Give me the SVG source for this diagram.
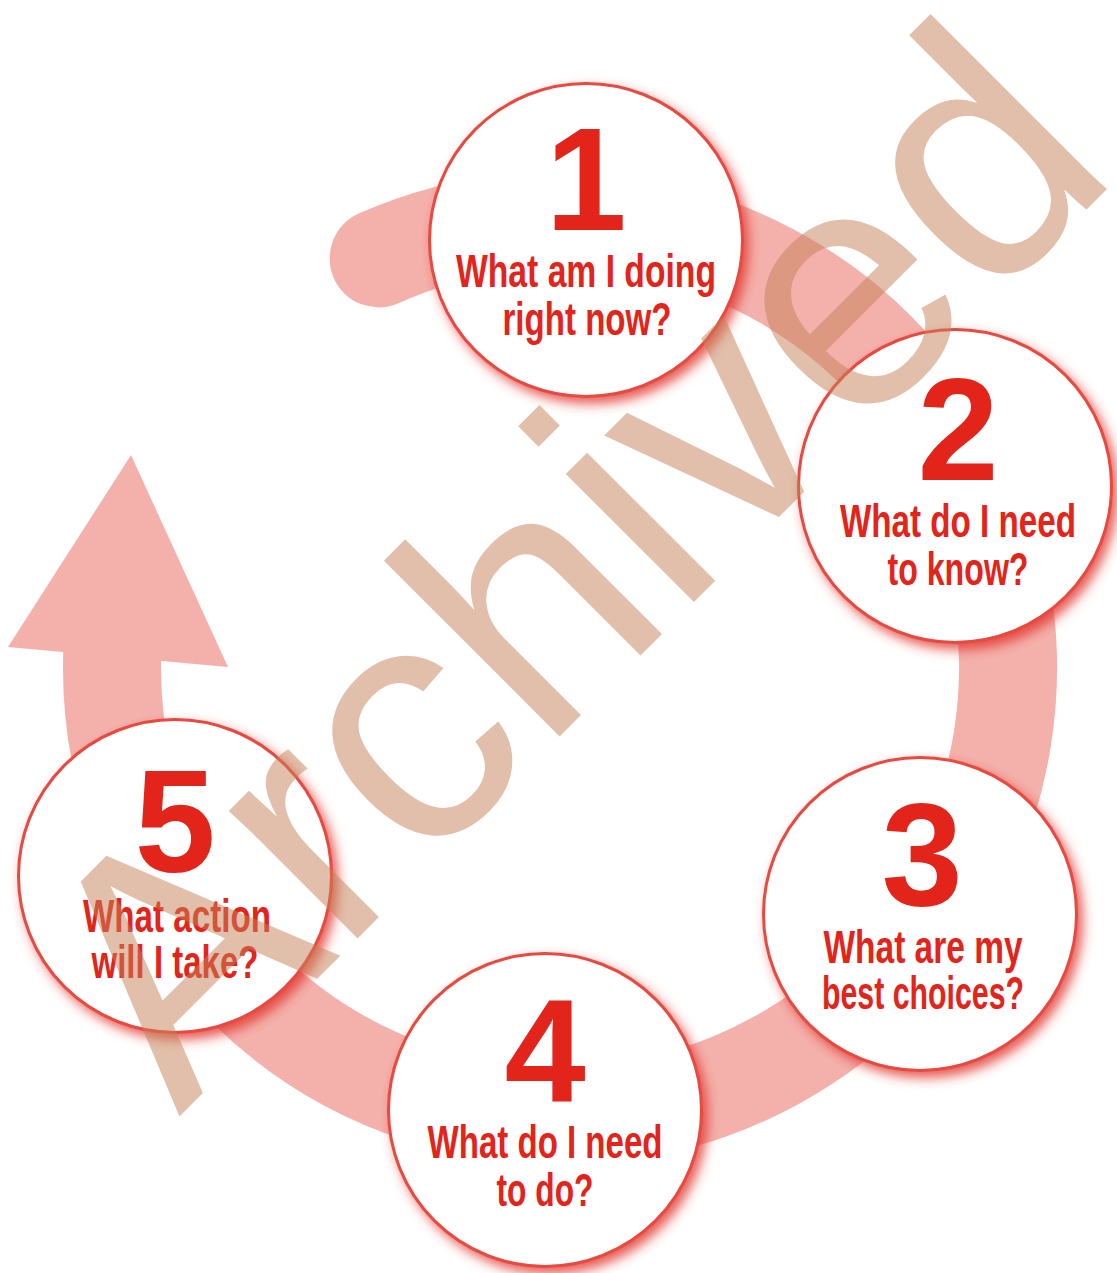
<svg xmlns="http://www.w3.org/2000/svg" width="1117" height="1273" viewBox="0 0 1117 1273">
<style>
.band{fill:none;stroke:#f4b1ac;stroke-width:98;stroke-linecap:round}
.arrow{fill:#f4b1ac}
.node circle{fill:#ffffff;stroke:#e8493f;stroke-width:3;filter:url(#sh)}
.num{fill:#e3241a;font-family:"Liberation Sans",Arial,sans-serif;font-weight:700;font-size:146px;text-anchor:middle}
.lbl{fill:#e3241a;font-family:"Liberation Sans Narrow","Liberation Sans",Arial,sans-serif;font-weight:700;font-size:46px;text-anchor:middle}
.wm{fill:#c58157;opacity:0.5;font-family:"Liberation Sans",Arial,sans-serif;font-size:343px}
</style>
<defs>
<filter id="sh" x="-20%" y="-20%" width="150%" height="150%">
<feDropShadow dx="5" dy="6" stdDeviation="6" flood-color="#e0352b" flood-opacity="0.8"/>
</filter>
</defs>
<rect width="1117" height="1273" fill="#ffffff"/>
<g id="connectors">
<path class="band" d="M 378.6 258.4 A 448 448 0 1 1 113.1 636.7"/>
<polygon class="arrow" points="8,647 131,455 228,667"/>
</g>
<g id="node1" class="node">
<circle cx="586" cy="240" r="156.5"/>
<text class="num" x="586" y="230">1</text>
<text class="lbl" x="586" y="287" textLength="260" lengthAdjust="spacingAndGlyphs">What am I doing</text>
<text class="lbl" x="587" y="335" textLength="169" lengthAdjust="spacingAndGlyphs">right now?</text>
</g>
<g id="node2" class="node">
<circle cx="955" cy="486" r="156.5"/>
<text class="num" x="958" y="480">2</text>
<text class="lbl" x="958" y="537" textLength="236" lengthAdjust="spacingAndGlyphs">What do I need</text>
<text class="lbl" x="958" y="585" textLength="141" lengthAdjust="spacingAndGlyphs">to know?</text>
</g>
<g id="node3" class="node">
<circle cx="920" cy="914" r="156.5"/>
<text class="num" x="922" y="905">3</text>
<text class="lbl" x="923" y="963" textLength="199" lengthAdjust="spacingAndGlyphs">What are my</text>
<text class="lbl" x="923" y="1009" textLength="202" lengthAdjust="spacingAndGlyphs">best choices?</text>
</g>
<g id="node4" class="node">
<circle cx="545" cy="1110" r="156.5"/>
<text class="num" x="545" y="1102">4</text>
<text class="lbl" x="545" y="1158" textLength="235" lengthAdjust="spacingAndGlyphs">What do I need</text>
<text class="lbl" x="545" y="1206" textLength="97" lengthAdjust="spacingAndGlyphs">to do?</text>
</g>
<g id="node5" class="node">
<circle cx="175" cy="876" r="156.5"/>
<text class="num" x="175" y="872">5</text>
<text class="lbl" x="177" y="932" textLength="188" lengthAdjust="spacingAndGlyphs">What action</text>
<text class="lbl" x="175" y="978" textLength="167" lengthAdjust="spacingAndGlyphs">will I take?</text>
</g>
<g id="watermark">
<text class="wm" x="0" y="0" transform="translate(179,1117) rotate(-45)">Archived</text>
</g>
</svg>
